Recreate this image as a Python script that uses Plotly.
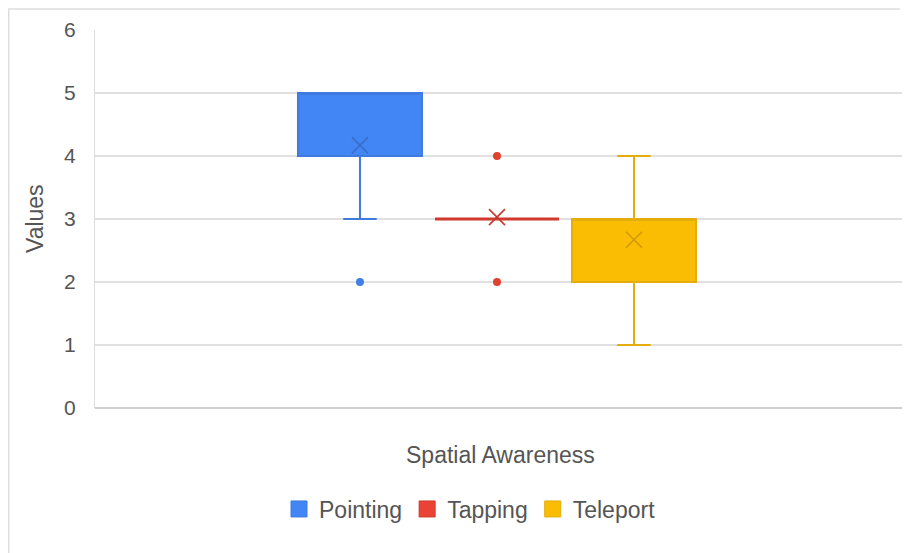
import plotly.graph_objects as go

series = ["Pointing", "Tapping", "Teleport"]
q1 = [4, 3, 2]
median = [5, 3, 3]
q3 = [5, 3, 3]
lower = [3, 3, 1]
upper = [5, 3, 4]
means = [4.17, 3.03, 2.67]
outliers = [[2], [4, 2], []]
y_ticks = [0, 1, 2, 3, 4, 5, 6]

fills = ["#4285F4", "#EA4335", "#FBBC04"]
lines = ["#3f7ae0", "#d0392b", "#e3ad0c"]
mean_cols = ["#3b6bc4", "#c23a2c", "#cf9a05"]
dot_cols = ["#3f7fe6", "#e0402f", "#FBBC04"]
line_w = [2, 3, 2]

FONT = "Arial, Liberation Sans, sans-serif"
TXT = "#555555"

# figure is placed at page offset (8, 8); plot area in figure px: x 87..900, y 22..400
L, R, T, B, W, H = 87, 10, 22, 153, 910, 553
PW, PH = W - L - R, H - T - B


def px(fx):
    return (fx - L) / PW


def py(fy):
    return (H - B - fy) / PH


fig = go.Figure()
for i, name in enumerate(series):
    fig.add_trace(go.Box(
        name=name, x=[i], q1=[q1[i]], median=[median[i]], q3=[q3[i]],
        lowerfence=[lower[i]], upperfence=[upper[i]],
        fillcolor=fills[i], line=dict(color=lines[i], width=line_w[i]),
        width=0.905, whiskerwidth=0.27, boxpoints=False, hoverinfo="skip",
        showlegend=False,
    ))
for i, name in enumerate(series):
    fig.add_trace(go.Scatter(
        x=[i], y=[means[i]], mode="markers", showlegend=False,
        marker=dict(symbol="x-thin", size=16, line=dict(color=mean_cols[i], width=1.6)),
    ))
    if outliers[i]:
        fig.add_trace(go.Scatter(
            x=[i] * len(outliers[i]), y=outliers[i], mode="markers", showlegend=False,
            marker=dict(symbol="circle", size=8, color=dot_cols[i]),
        ))
# legend entries (square swatches)
for i, name in enumerate(series):
    fig.add_trace(go.Scatter(
        x=[None], y=[None], mode="markers", name=name, showlegend=True,
        marker=dict(symbol="square", size=16, color=fills[i],
                    line=dict(color=lines[i], width=1)),
    ))

fig.update_layout(
    width=W, height=H,
    margin=dict(l=L, r=R, t=T, b=B),
    paper_bgcolor="white", plot_bgcolor="white",
    font=dict(family=FONT, size=23, color=TXT),
    showlegend=True,
    legend=dict(orientation="h", x=px(462), y=py(501), xanchor="center", yanchor="middle",
                font=dict(size=23, color=TXT), itemwidth=30, traceorder="normal",
                bgcolor="rgba(0,0,0,0)"),
    xaxis=dict(range=[-1.934, 4.0], showticklabels=False, showgrid=False, zeroline=False,
               showline=False, fixedrange=True),
    yaxis=dict(range=[0, 6], tickvals=y_ticks, showgrid=True, gridcolor="#e0e0e0",
               gridwidth=1.5, zeroline=True, zerolinecolor="#cfcfcf", zerolinewidth=1.5,
               showline=True, linecolor="#dcdcdc", linewidth=1,
               ticklabelstandoff=14, tickfont=dict(size=21, color=TXT)),
    annotations=[
        dict(text="Values", xref="paper", yref="paper", x=px(27), y=py(211),
             textangle=-90, showarrow=False, xanchor="center", yanchor="middle",
             font=dict(size=23, color=TXT)),
        dict(text="Spatial Awareness", xref="paper", yref="paper", x=px(492),
             y=py(447), showarrow=False, xanchor="center", yanchor="middle",
             font=dict(size=23, color=TXT)),
    ],
    shapes=[
        dict(type="line", xref="paper", yref="paper", x0=px(0), x1=px(892),
             y0=py(1), y1=py(1), line=dict(color="#dedede", width=1.5)),
        dict(type="line", xref="paper", yref="paper", x0=px(0.75), x1=px(0.75),
             y0=py(1), y1=py(H), line=dict(color="#dedede", width=1.5)),
    ],
)

fig.write_html("out.html")
